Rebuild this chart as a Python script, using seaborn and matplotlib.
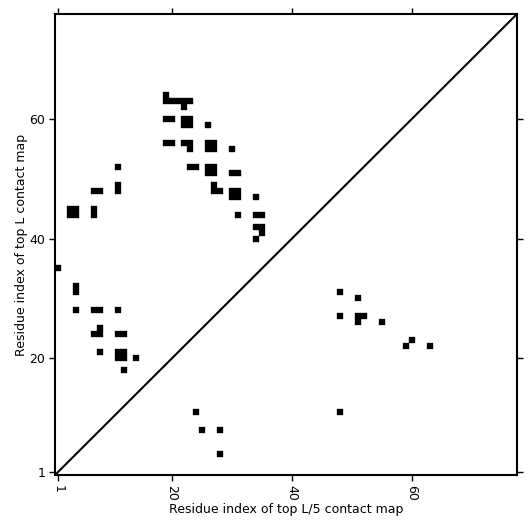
import matplotlib
matplotlib.use("Agg")
import matplotlib.pyplot as plt
import seaborn as sns
import pandas as pd

# Top L contact map (upper-left triangle): residue pairs (x, y)
top_L_x = [19, 19, 20, 21, 22, 23, 22,
           19, 20, 22, 23, 22, 23, 26,
           19, 20, 22, 23, 23, 26, 27, 26, 27, 30,
           23, 24, 26, 27, 26, 27, 30, 31,
           27, 27, 28, 30, 31, 30, 31, 34,
           31, 34, 35, 34, 35, 35, 34,
           11, 11, 11, 7, 8, 3, 4, 3, 4, 7, 7,
           1, 4, 4, 4, 7, 8, 11, 8, 7, 8, 11, 12, 8, 11, 12, 11, 12, 14, 12]
top_L_y = [64, 63, 63, 63, 63, 63, 62,
           60, 60, 60, 60, 59, 59, 59,
           56, 56, 56, 56, 55, 56, 56, 55, 55, 55,
           52, 52, 52, 52, 51, 51, 51, 51,
           49, 48, 48, 48, 48, 47, 47, 47,
           44, 44, 44, 42, 42, 41, 40,
           52, 49, 48, 48, 48, 45, 45, 44, 44, 45, 44,
           35, 32, 31, 28, 28, 28, 28, 25, 24, 24, 24, 24, 21, 21, 21, 20, 20, 20, 18]

# Top L/5 contact map (lower-right triangle)
top_L5_x = [48, 51, 48, 51, 52, 51, 55, 60, 59, 63, 24, 25, 28, 28, 48]
top_L5_y = [31, 30, 27, 27, 27, 26, 26, 23, 22, 22, 11, 8, 8, 4, 11]

seq_len = 77
tick_vals = [1, 20, 40, 60]

sns.set_style("white")
plt.rcParams['font.family'] = ['DejaVu Sans']
plt.rcParams['text.color'] = 'black'
plt.rcParams['axes.labelcolor'] = 'black'
plt.rcParams['xtick.color'] = 'black'
plt.rcParams['ytick.color'] = 'black'

fig = plt.figure(figsize=(5.31, 5.31), dpi=100)
ax = fig.add_axes([55/531, 1-475/531, 462/531, 461/531])

df = pd.DataFrame({"x": top_L_x + top_L5_x, "y": top_L_y + top_L5_y})

unit_px = 462 / seq_len
side_pt = unit_px * 72 / 100
sns.scatterplot(data=df, x="x", y="y", marker="s", s=side_pt**2, color="black",
                edgecolor="black", linewidth=0.25, ax=ax, legend=False)

ax.plot([0.5, seq_len + 0.5], [0.5, seq_len + 0.5], color="black", lw=1.5)

ax.set_xlim(0.5, seq_len + 0.5)
ax.set_ylim(0.5, seq_len + 0.5)
ax.set_xticks(tick_vals)
ax.set_yticks(tick_vals)
ax.set_xticklabels([str(t) for t in tick_vals], rotation=270)
ax.set_yticklabels([str(t) for t in tick_vals])
ax.tick_params(axis="both", which="both", direction="out", length=4, width=1,
               labelsize=9, top=True, right=True, bottom=True, left=True,
               labeltop=False, labelright=False, pad=3)
for sp in ax.spines.values():
    sp.set_linewidth(1.5)
    sp.set_color("black")

ax.set_xlabel("Residue index of top L/5 contact map", fontsize=9, labelpad=2)
ax.set_ylabel("Residue index of top L contact map", fontsize=9, labelpad=1)

fig.savefig("out.png", dpi=100)
